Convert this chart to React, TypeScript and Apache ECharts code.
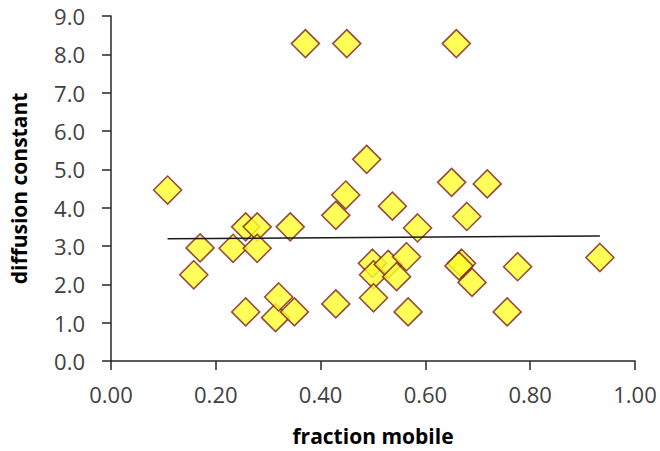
import React, { useEffect, useRef } from "react";
import * as echarts from "echarts";

const fractionMobile: number[] = [
  0.108, 0.17, 0.158, 0.257, 0.279, 0.233, 0.279, 0.342, 0.257, 0.314,
  0.32, 0.35, 0.429, 0.448, 0.429, 0.371, 0.45, 0.659, 0.488, 0.499,
  0.501, 0.501, 0.529, 0.564, 0.545, 0.537, 0.585, 0.567, 0.65, 0.718,
  0.679, 0.669, 0.664, 0.689, 0.776, 0.756, 0.933,
];
const diffusionConstant: number[] = [
  4.46, 2.95, 2.25, 3.5, 3.5, 2.94, 2.94, 3.5, 1.28, 1.13,
  1.67, 1.28, 3.8, 4.33, 1.49, 8.28, 8.28, 8.28, 5.26, 2.55,
  2.25, 1.65, 2.52, 2.72, 2.2, 4.04, 3.47, 1.28, 4.66, 4.62,
  3.77, 2.55, 2.48, 2.05, 2.46, 1.28, 2.7,
];
const trendX: number[] = [0.108, 0.933];
const trendY: number[] = [3.19, 3.26];

const FONT = "'Open Sans', 'Liberation Sans', sans-serif";

export default function App() {
  const ref = useRef<HTMLDivElement>(null);
  useEffect(() => {
    if (!ref.current) return;
    const chart = echarts.init(ref.current, undefined, { renderer: "svg" });
    const axisLine = { show: true, lineStyle: { color: "#262626", width: 1.5 } };
    chart.setOption({
      animation: false,
      backgroundColor: "#ffffff",
      grid: { left: 110, right: 25, top: 16, bottom: 89, containLabel: false },
      xAxis: {
        type: "value",
        min: 0,
        max: 1,
        interval: 0.2,
        name: "fraction mobile",
        nameLocation: "middle",
        nameGap: 64,
        nameTextStyle: { fontFamily: FONT, fontSize: 21, fontWeight: "bold", color: "#000" },
        axisLine,
        axisTick: { show: true, inside: false, length: 9, lineStyle: { color: "#262626", width: 1.5 } },
        splitLine: { show: false },
        axisLabel: {
          margin: 22,
          fontFamily: FONT,
          fontSize: 22,
          lineHeight: 22,
          color: "#404040",
          formatter: (v: number) => v.toFixed(2),
        },
      },
      yAxis: {
        type: "value",
        min: 0,
        max: 9,
        interval: 1,
        name: "diffusion constant",
        nameLocation: "middle",
        nameGap: 82,
        nameTextStyle: { fontFamily: FONT, fontSize: 21, fontWeight: "bold", color: "#000" },
        axisLine,
        axisTick: { show: true, inside: false, length: 9, lineStyle: { color: "#262626", width: 1.5 } },
        splitLine: { show: false },
        axisLabel: {
          margin: 26,
          fontFamily: FONT,
          fontSize: 22,
          lineHeight: 20,
          color: "#404040",
          formatter: (v: number) => v.toFixed(1),
        },
      },
      series: [
        {
          type: "scatter",
          symbol: "diamond",
          symbolSize: 28,
          data: fractionMobile.map((x, i) => [x, diffusionConstant[i]]),
          itemStyle: { color: "#FFFF2E", borderColor: "#7A1F1F", borderWidth: 1.6 },
          z: 2,
        },
        {
          type: "line",
          data: trendX.map((x, i) => [x, trendY[i]]),
          symbol: "none",
          lineStyle: { color: "#1a1a1a", width: 1.5 },
          z: 3,
        },
      ],
    });
    return () => chart.dispose();
  }, []);
  return <div ref={ref} style={{ width: 660, height: 451, position: "absolute", left: 0, top: 0 }} />;
}
